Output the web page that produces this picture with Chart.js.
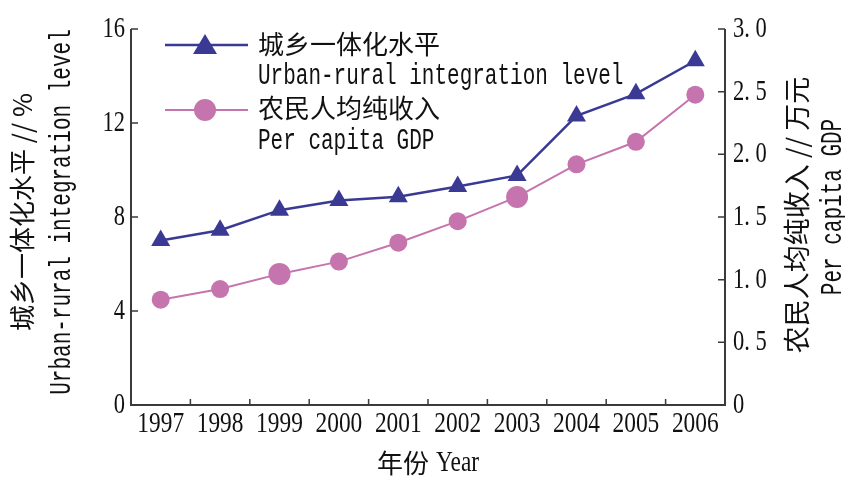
<!DOCTYPE html>
<html>
<head>
<meta charset="utf-8">
<script src="https://cdn.jsdelivr.net/npm/chart.js@4/dist/chart.umd.min.js"></script>
<style>
    body { margin: 0; background: #fff; }
    #wrap { width: 845px; height: 477px; }
</style>
</head>
<body>
<div id="wrap"><canvas id="chart" width="845" height="477"></canvas></div>
<script>
const years = ['1997', '1998', '1999', '2000', '2001', '2002', '2003', '2004', '2005', '2006'];
// left axis, %
const integrationLevel = [7.0, 7.44, 8.29, 8.7, 8.86, 9.3, 9.77, 12.3, 13.24, 14.65];
// right axis, 10k yuan
const incomePerCapita = [0.84, 0.925, 1.046, 1.144, 1.295, 1.467, 1.66, 1.92, 2.10, 2.476];
const leftTickLabels = ['0', '4', '8', '12', '16'];
const rightTickLabels = ['0', '0. 5', '1. 0', '1. 5', '2. 0', '2. 5', '3. 0'];

const blue = '#3a3a94';
const pink = '#c674ae';
const axisColor = '#3a3a3a';
const serif = '"Liberation Serif", "Times New Roman", serif';
const mono = '"Liberation Mono", "DejaVu Sans Mono", monospace';
const cjk = '"Noto Sans CJK SC", sans-serif';

// text helper: the original uses tall narrow glyphs, so stretch a bit
function drawText(ctx, text, x, y, font, align, sx, sy, rot) {
    ctx.save();
    ctx.translate(x, y);
    if (rot) ctx.rotate(rot);
    ctx.scale(sx || 1, sy || 1);
    ctx.font = font;
    ctx.textAlign = align || 'left';
    ctx.textBaseline = 'middle';
    ctx.fillText(text, 0, 0);
    ctx.restore();
}

const axesPlugin = {
    id: 'axes',
    beforeDatasetsDraw(chart) {
        const { ctx, chartArea: a, scales } = chart;
        ctx.save();
        ctx.strokeStyle = axisColor;
        ctx.lineWidth = 2;
        ctx.beginPath();
        ctx.moveTo(a.left, a.top);
        ctx.lineTo(a.left, a.bottom);
        ctx.lineTo(a.right, a.bottom);
        ctx.lineTo(a.right, a.top);
        ctx.stroke();

        // inward ticks
        ctx.lineWidth = 1.5;
        ctx.beginPath();
        scales.y.ticks.forEach(t => {
            const py = scales.y.getPixelForValue(t.value);
            ctx.moveTo(a.left, py);
            ctx.lineTo(a.left + 7, py);
        });
        scales.y1.ticks.forEach(t => {
            const py = scales.y1.getPixelForValue(t.value);
            ctx.moveTo(a.right, py);
            ctx.lineTo(a.right - 7, py);
        });
        for (let i = 1; i < years.length; i++) {
            const px = (scales.x.getPixelForValue(i - 1) + scales.x.getPixelForValue(i)) / 2;
            ctx.moveTo(px, a.bottom);
            ctx.lineTo(px, a.bottom - 6);
        }
        ctx.stroke();

        // tick labels
        ctx.fillStyle = '#111';
        const tickFont = '30px ' + serif;
        scales.y.ticks.forEach((t, i) => {
            drawText(ctx, leftTickLabels[i], a.left - 6, scales.y.getPixelForValue(t.value), tickFont, 'right', 0.75, 1);
        });
        scales.y1.ticks.forEach((t, i) => {
            drawText(ctx, rightTickLabels[i], a.right + 8, scales.y1.getPixelForValue(t.value), tickFont, 'left', 0.75, 1);
        });
        years.forEach((yr, i) => {
            drawText(ctx, yr, scales.x.getPixelForValue(i), a.bottom + 19, tickFont, 'center', 0.78, 1);
        });
        ctx.restore();
    },
    afterDraw(chart) {
        const { ctx } = chart;
        ctx.save();

        // legend
        ctx.strokeStyle = blue;
        ctx.lineWidth = 2.5;
        ctx.beginPath();
        ctx.moveTo(165, 45);
        ctx.lineTo(248, 45);
        ctx.stroke();
        ctx.fillStyle = blue;
        ctx.beginPath();
        ctx.moveTo(205, 34);
        ctx.lineTo(217, 54);
        ctx.lineTo(193, 54);
        ctx.closePath();
        ctx.fill();
        ctx.strokeStyle = pink;
        ctx.lineWidth = 2;
        ctx.beginPath();
        ctx.moveTo(165, 110);
        ctx.lineTo(248, 110);
        ctx.stroke();
        ctx.fillStyle = pink;
        ctx.beginPath();
        ctx.arc(205, 110, 11, 0, Math.PI * 2);
        ctx.fill();

        ctx.fillStyle = '#111';
        drawText(ctx, '城乡一体化水平', 258, 44, '26px ' + cjk);
        drawText(ctx, '农民人均纯收入', 258, 108, '26px ' + cjk);
        drawText(ctx, 'Urban-rural integration level', 258, 76, '21px ' + mono, 'left', 1, 1.4);
        drawText(ctx, 'Per capita GDP', 258, 141, '21px ' + mono, 'left', 1, 1.4);

        // axis titles
        const up = -Math.PI / 2;
        drawText(ctx, '城乡一体化水平 // %', 22, 212, '26px ' + cjk, 'center', 1, 1, up);
        drawText(ctx, 'Urban-rural integration level', 62, 212, '21px ' + mono, 'center', 1, 1.4, up);
        drawText(ctx, '农民人均纯收入 // 万元', 797, 215, '27px ' + cjk, 'center', 1, 1, up);
        drawText(ctx, 'Per capita GDP', 833, 207, '21px ' + mono, 'center', 1, 1.4, up);

        drawText(ctx, '年份', 377, 463, '26px ' + cjk);
        drawText(ctx, 'Year', 436, 463, '30px ' + serif, 'left', 0.78, 1);
        ctx.restore();
    }
};

new Chart(document.getElementById('chart').getContext('2d'), {
    type: 'line',
    data: {
        labels: years,
        datasets: [
            {
                label: '城乡一体化水平',
                data: integrationLevel,
                yAxisID: 'y',
                borderColor: blue,
                backgroundColor: blue,
                borderWidth: 2.5,
                pointStyle: 'triangle',
                pointRadius: 11,
                pointBorderWidth: 0,
                tension: 0
            },
            {
                label: '农民人均纯收入',
                data: incomePerCapita,
                yAxisID: 'y1',
                borderColor: pink,
                backgroundColor: pink,
                borderWidth: 2,
                pointStyle: 'circle',
                pointRadius: [9, 9, 11, 9, 9, 9, 11, 9, 9, 9],
                pointBorderWidth: 0,
                tension: 0
            }
        ]
    },
    options: {
        responsive: false,
        animation: false,
        layout: { padding: { top: 29 } },
        plugins: {
            legend: { display: false },
            tooltip: { enabled: false }
        },
        scales: {
            x: {
                offset: true,
                grid: { display: false },
                border: { display: false },
                ticks: { display: false },
                afterFit(scale) { scale.height = 72; }
            },
            y: {
                position: 'left',
                min: 0,
                max: 16,
                grid: { display: false },
                border: { display: false },
                ticks: { display: false, stepSize: 4 },
                afterFit(scale) { scale.width = 131; }
            },
            y1: {
                position: 'right',
                min: 0,
                max: 3,
                grid: { display: false },
                border: { display: false },
                ticks: { display: false, stepSize: 0.5 },
                afterFit(scale) { scale.width = 120; }
            }
        }
    },
    plugins: [axesPlugin]
});
</script>
</body>
</html>
